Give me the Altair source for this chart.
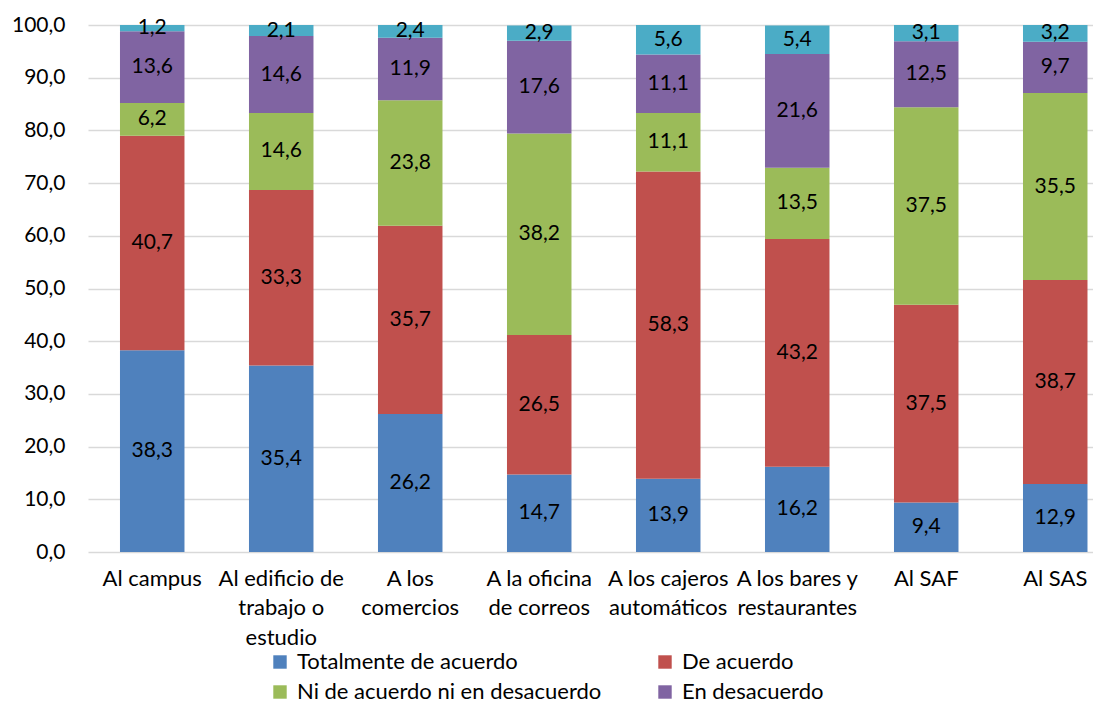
import altair as alt
import pandas as pd

categories = [
    "Al campus",
    "Al edificio de\ntrabajo o\nestudio",
    "A los\ncomercios",
    "A la oficina\nde correos",
    "A los cajeros\nautomáticos",
    "A los bares y\nrestaurantes",
    "Al SAF",
    "Al SAS",
]
series = [
    "Totalmente de acuerdo",
    "De acuerdo",
    "Ni de acuerdo ni en desacuerdo",
    "En desacuerdo",
    "Totalmente en desacuerdo",
]
totalmente_de_acuerdo = [38.3, 35.4, 26.2, 14.7, 13.9, 16.2, 9.4, 12.9]
de_acuerdo = [40.7, 33.3, 35.7, 26.5, 58.3, 43.2, 37.5, 38.7]
ni_ni = [6.2, 14.6, 23.8, 38.2, 11.1, 13.5, 37.5, 35.5]
en_desacuerdo = [13.6, 14.6, 11.9, 17.6, 11.1, 21.6, 12.5, 9.7]
totalmente_en_desacuerdo = [1.2, 2.1, 2.4, 2.9, 5.6, 5.4, 3.1, 3.2]
colors = ["#4F81BD", "#C0504D", "#9BBB59", "#8064A2", "#4BACC6"]
y_ticks = [0, 10, 20, 30, 40, 50, 60, 70, 80, 90, 100]

values = [totalmente_de_acuerdo, de_acuerdo, ni_ni, en_desacuerdo, totalmente_en_desacuerdo]
rows = []
for si, (s, vals) in enumerate(zip(series, values)):
    for c, v in zip(categories, vals):
        rows.append({"cat": c, "serie": s, "orden": si, "valor": v})
df = pd.DataFrame(rows)

FONT = "Lato"
FS = 21
FS_BIG = 22

base = alt.Chart(df).transform_stack(
    stack="valor",
    groupby=["cat"],
    as_=["y0", "y1"],
    sort=[alt.SortField("orden", order="ascending")],
).transform_calculate(
    mid="(datum.y0 + datum.y1) / 2",
    etiqueta="replace(format(datum.valor, '.1f'), '.', ',')",
)

x = alt.X(
    "cat:N",
    sort=categories,
    title=None,
    scale=alt.Scale(paddingInner=0.5, paddingOuter=0.1453, align=0.853),
    axis=alt.Axis(
        labelExpr="split(datum.label, '\\n')",
        labelAngle=0,
        ticks=False,
        domain=False,
        labelFontSize=FS_BIG,
        labelLineHeight=29.5,
        labelPadding=16,
        labelBaseline="top",
        labelColor="black",
        labelFont=FONT,
    ),
)

bars = base.mark_bar().encode(
    x=x,
    y=alt.Y(
        "y0:Q",
        title=None,
        scale=alt.Scale(domain=[0, 100], nice=False),
        axis=alt.Axis(
            values=y_ticks,
            labelExpr="replace(format(datum.value, '.1f'), '.', ',')",
            ticks=False,
            domain=False,
            gridColor="#D9D9D9",
            gridWidth=1.3,
            labelFontSize=FS,
            labelPadding=23,
            labelColor="black",
            labelFont=FONT,
        ),
    ),
    y2="y1:Q",
    color=alt.Color(
        "serie:N",
        sort=series,
        scale=alt.Scale(domain=series, range=colors),
        legend=alt.Legend(
            values=series[:4],
            orient="none",
            legendX=181,
            legendY=626,
            direction="horizontal",
            columns=2,
            title=None,
            symbolType="square",
            symbolSize=180,
            symbolStrokeWidth=0,
            labelFontSize=FS_BIG,
            labelFont=FONT,
            labelColor="black",
            labelOffset=6,
            columnPadding=52,
            rowPadding=8,
            labelLimit=400,
        ),
    ),
)

text = base.mark_text(fontSize=FS, font=FONT, color="black", baseline="middle").encode(
    x=alt.X("cat:N", sort=categories),
    y=alt.Y("mid:Q"),
    text="etiqueta:N",
)

chart = (
    alt.layer(bars, text)
    .properties(
        width=1005,
        height=527,
        autosize=alt.AutoSizeParams(type="none"),
        padding={"left": 80, "top": 17, "right": 0, "bottom": 149},
    )
    .configure(font=FONT)
    .configure_view(stroke=None)
)

chart.save("out.html", embed_options={"renderer": "svg", "actions": False})
